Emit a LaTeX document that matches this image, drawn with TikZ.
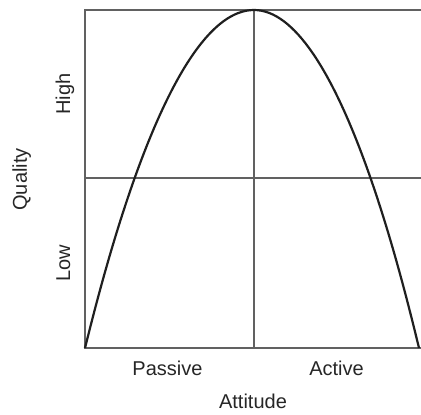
\documentclass[tikz,border=0pt]{standalone}
\usepackage{fontspec}
\setmainfont{Liberation Sans}
\usetikzlibrary{positioning}

\begin{document}
\begin{tikzpicture}[
    x=1pt, y=-1pt,
    every node/.style={font=\fontsize{20}{24}\selectfont, text=black!85, inner sep=0pt},
    frame/.style={draw=black!62, line width=1.7pt},
    curve/.style={draw=black!88, line width=2.2pt},
    ylab/.style={rotate=90, anchor=base},
  ]
    \useasboundingbox (0,0) rectangle (421,415);
    % plot area
    \coordinate (tl) at (85,10);
    \coordinate (bl) at (85,348);
    \coordinate (tr) at (421,10);
    \coordinate (br) at (421,348);
    \coordinate (peak) at (254,10);
    \coordinate (mid) at (254,348);
    \coordinate (ml) at (85,178);
    \coordinate (mr) at (421,178);
    \coordinate (end) at (419,348);
    \draw[frame] (tr) -- (tl) -- (bl) -- (br);
    \draw[frame] (peak) -- (mid);
    \draw[frame] (ml) -- (mr);
    \draw[curve] (bl) parabola bend (peak) (end);
    % labels
    \node[anchor=base] (passive) at (167.5,375) {Passive};
    \node[anchor=base] (active) at (336.5,375) {Active};
    \node[anchor=base] (attitude) at (253,408) {Attitude};
    \node[ylab] (high) at (70,94) {High};
    \node[ylab] (low) at (70,263) {Low};
    \node[ylab] (quality) at (27,179.5) {Quality};
\end{tikzpicture}
\end{document}
